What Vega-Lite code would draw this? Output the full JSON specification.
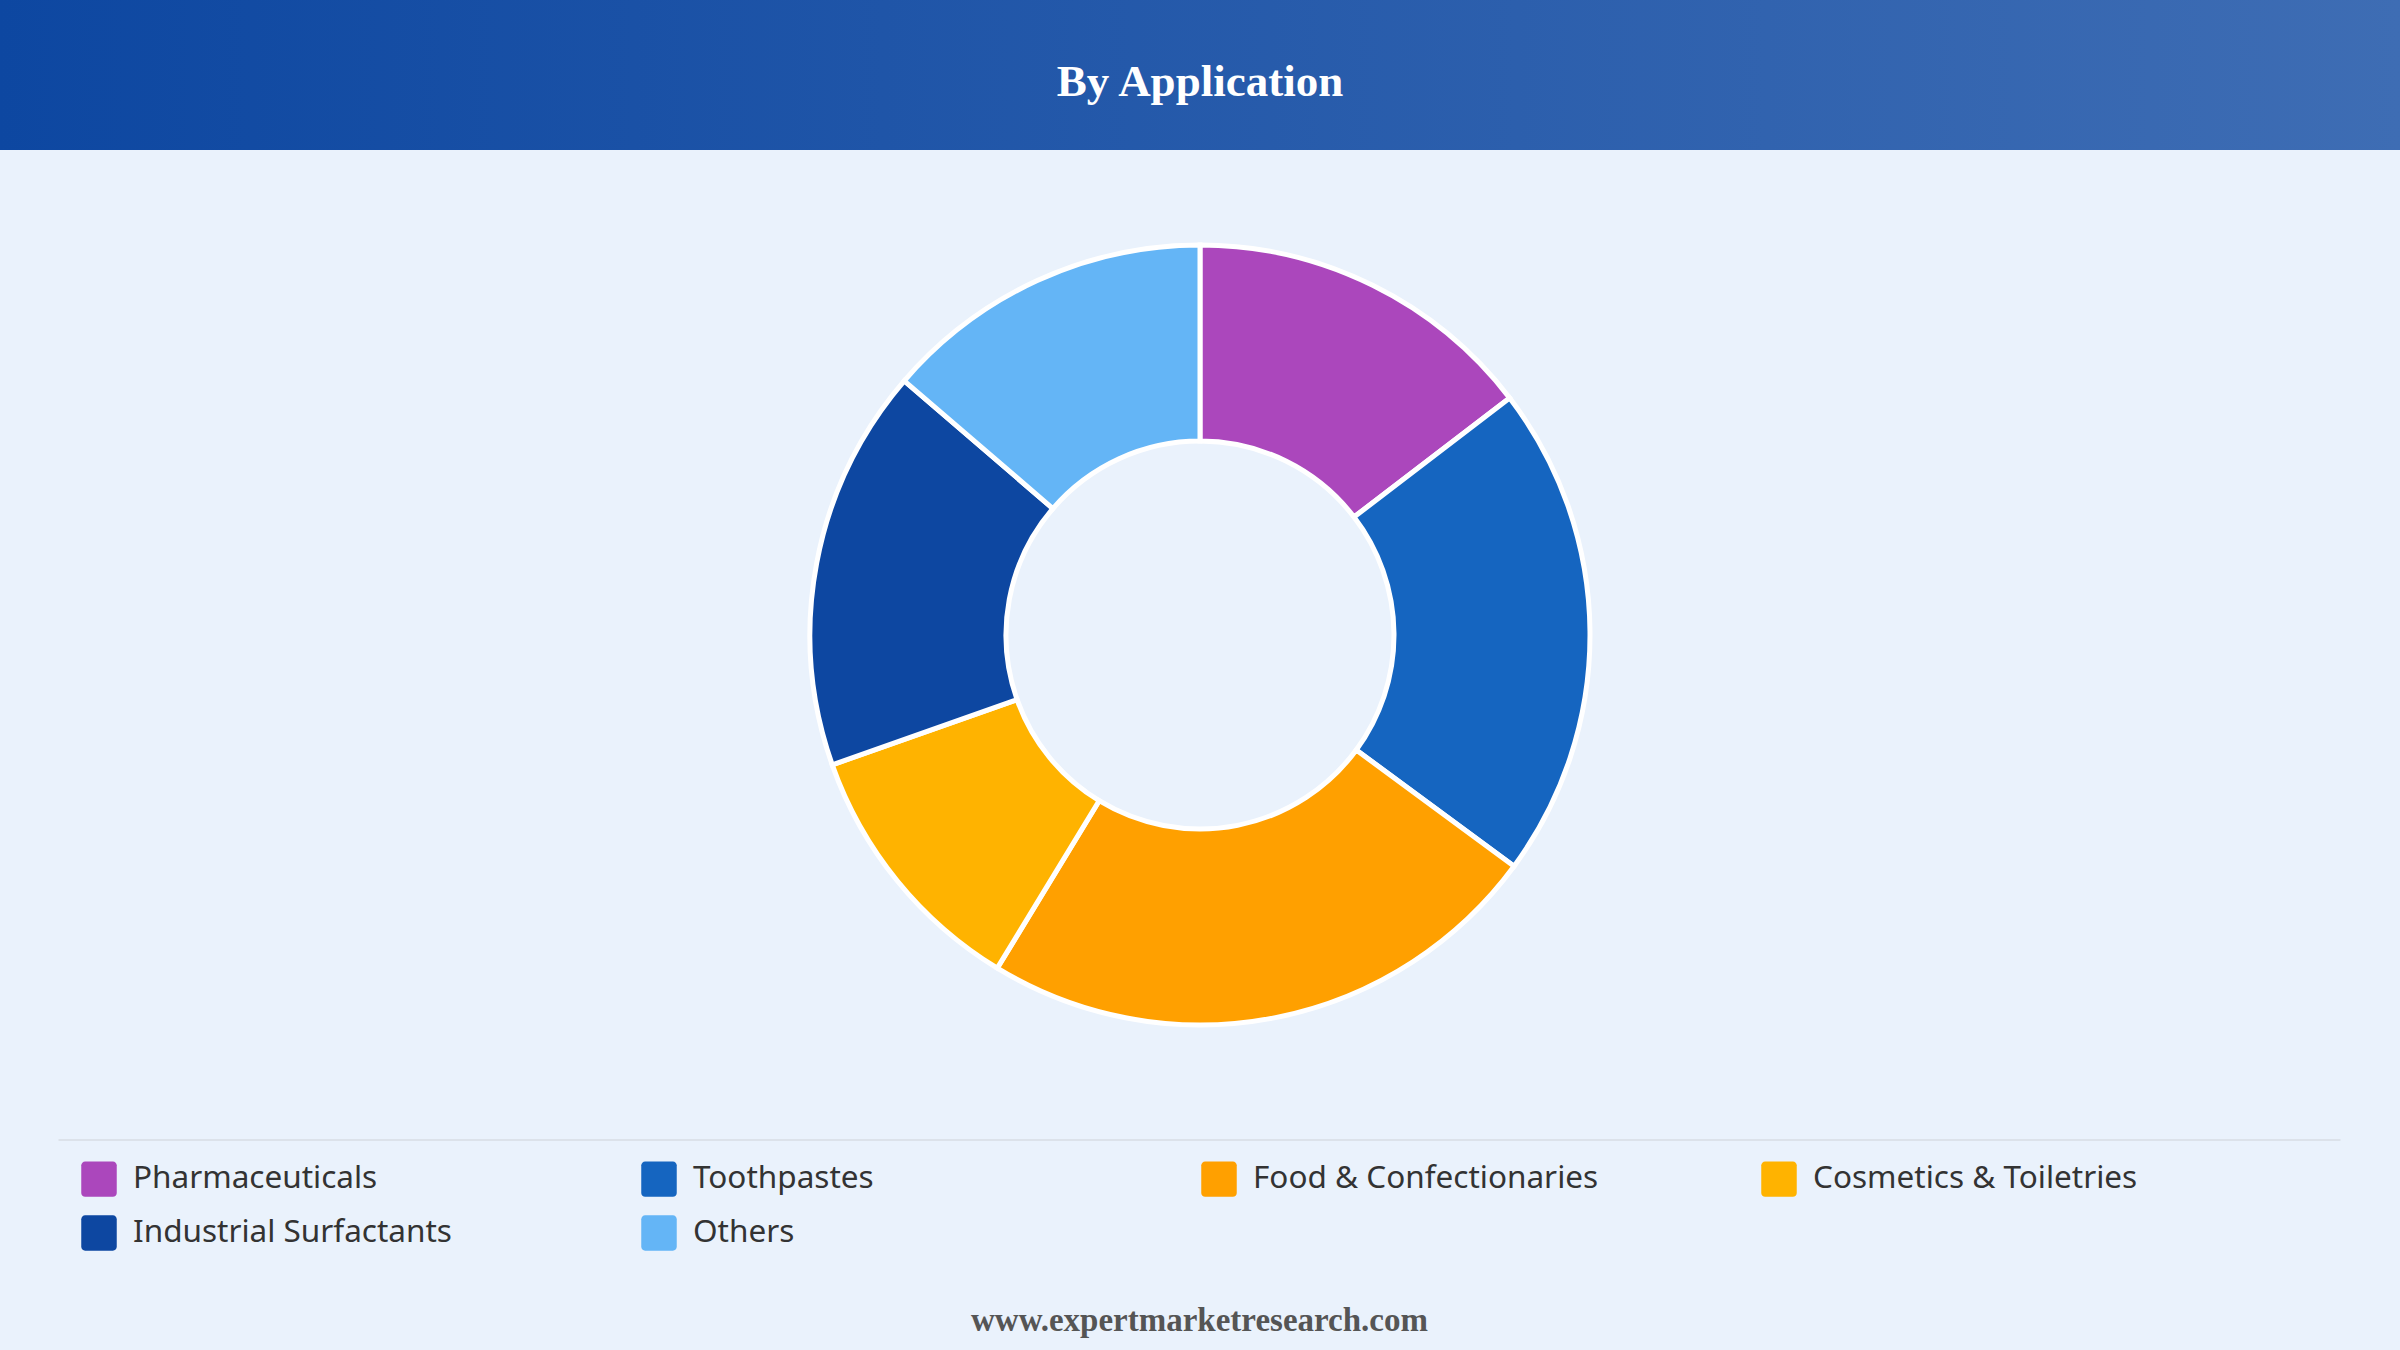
{
  "$schema": "https://vega.github.io/schema/vega-lite/v6.json",
  "background": "#EAF2FC",
  "padding": 0,
  "spacing": 0,
  "config": {"view": {"stroke": null}, "concat": {"spacing": 0}},
  "datasets": {
    "header": [{"title": "By Application"}],
    "apps": [
      {"application": "Pharmaceuticals", "share": 14.6},
      {"application": "Toothpastes", "share": 20.5},
      {"application": "Food & Confectionaries", "share": 23.6},
      {"application": "Cosmetics & Toiletries", "share": 10.9},
      {"application": "Industrial Surfactants", "share": 16.7},
      {"application": "Others", "share": 13.7}
    ],
    "footer": [{"site": "www.expertmarketresearch.com"}]
  },
  "vconcat": [
    {
      "width": 2400,
      "height": 150,
      "data": {"name": "header"},
      "layer": [
        {
          "mark": {
            "type": "rect",
            "color": {
              "gradient": "linear",
              "x1": 0, "x2": 1, "y1": 0, "y2": 0,
              "stops": [
                {"offset": 0, "color": "#0D47A1"},
                {"offset": 1, "color": "#3E6DB4"}
              ]
            }
          },
          "encoding": {}
        },
        {
          "mark": {
            "type": "text",
            "font": "Liberation Serif",
            "fontWeight": "bold",
            "fontSize": 45,
            "color": "#FFFFFF",
            "baseline": "middle",
            "align": "center",
            "dy": 7
          },
          "encoding": {"text": {"field": "title", "type": "nominal"}}
        }
      ]
    },
    {
      "spacing": 19,
      "center": true,
      "vconcat": [
        {
          "width": 2400,
          "height": 970,
          "data": {"name": "apps"},
          "transform": [
            {"window": [{"op": "row_number", "as": "rank"}]}
          ],
          "mark": {
            "type": "arc",
            "outerRadius": 390,
            "innerRadius": 194,
            "stroke": "#FFFFFF",
            "strokeWidth": 5
          },
          "encoding": {
            "theta": {"field": "share", "type": "quantitative", "stack": true},
            "order": {"field": "rank", "type": "quantitative"},
            "color": {
              "field": "application",
              "type": "nominal",
              "scale": {
                "domain": ["Pharmaceuticals", "Toothpastes", "Food & Confectionaries", "Cosmetics & Toiletries", "Industrial Surfactants", "Others"],
                "range": ["#AB47BC", "#1565C0", "#FFA000", "#FFB300", "#0D47A1", "#64B5F6"]
              },
              "legend": {
                "title": null,
                "orient": "none",
                "legendX": 81,
                "legendY": 1161,
                "direction": "horizontal",
                "columns": 4,
                "gridAlign": "all",
                "columnPadding": 162,
                "rowPadding": 18,
                "symbolType": "M-0.78,-1H0.78A0.22,0.22,0,0,1,1,-0.78V0.78A0.22,0.22,0,0,1,0.78,1H-0.78A0.22,0.22,0,0,1,-1,0.78V-0.78A0.22,0.22,0,0,1,-0.78,-1Z",
                "symbolSize": 1260,
                "symbolStrokeWidth": 0,
                "symbolOpacity": 1,
                "labelFont": "Noto Sans",
                "labelFontSize": 31.5,
                "labelColor": "#333333",
                "labelOffset": 16,
                "labelLimit": 0
              }
            }
          }
        },
        {
          "width": 2282,
          "height": 211,
          "data": {"name": "footer"},
          "layer": [
            {
              "mark": {"type": "rule", "color": "#DCE2EA", "strokeWidth": 2},
              "encoding": {"y": {"value": 1}}
            },
            {
              "mark": {
                "type": "text",
                "font": "Liberation Serif",
                "fontWeight": "bold",
                "fontSize": 33,
                "color": "#555555",
                "baseline": "alphabetic",
                "align": "center",
                "y": "height",
                "dy": -19
              },
              "encoding": {"text": {"field": "site", "type": "nominal"}}
            }
          ]
        }
      ]
    }
  ]
}
